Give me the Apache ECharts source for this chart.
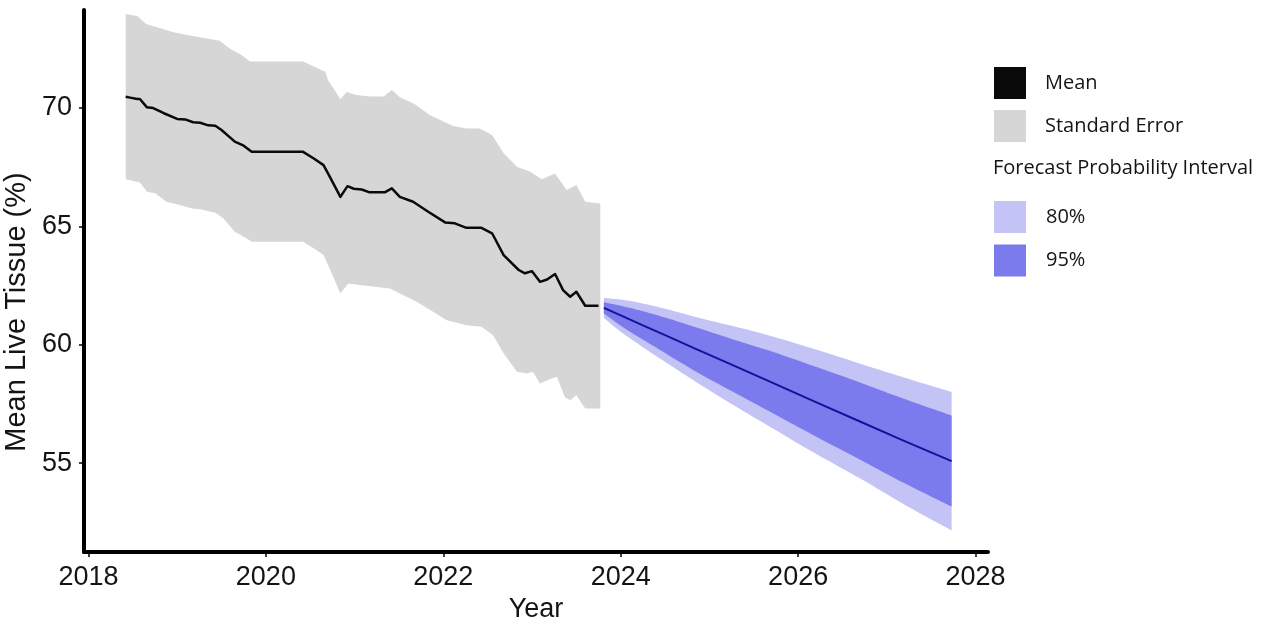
<!DOCTYPE html>
<html>
<head>
<meta charset="utf-8">
<script src="https://cdn.jsdelivr.net/npm/echarts@6/dist/echarts.min.js"></script>
<style>
html,body{margin:0;padding:0;background:#fff;}
#chart{width:1270px;height:621px;}
</style>
</head>
<body>
<div id="chart"></div>
<script>
// ---- Data ----
const xTicks = [2018, 2020, 2022, 2024, 2026, 2028];
const yTicks = [55, 60, 65, 70];

const meanYears = [2018.42,2018.47,2018.55,2018.58,2018.66,2018.73,2018.85,2019.00,2019.09,2019.18,2019.26,2019.35,2019.43,2019.50,2019.65,2019.75,2019.84,2020.42,2020.54,2020.65,2020.72,2020.84,2020.92,2020.99,2021.08,2021.17,2021.34,2021.42,2021.51,2021.66,2021.83,2022.02,2022.13,2022.26,2022.43,2022.55,2022.68,2022.85,2022.92,2023.00,2023.09,2023.17,2023.26,2023.35,2023.43,2023.50,2023.60,2023.75];
const meanVals  = [70.48,70.44,70.38,70.38,70.03,70.00,69.78,69.54,69.52,69.40,69.38,69.27,69.25,69.07,68.58,68.41,68.15,68.15,67.87,67.59,67.10,66.25,66.70,66.59,66.56,66.44,66.44,66.61,66.25,66.04,65.62,65.17,65.13,64.94,64.94,64.71,63.79,63.16,63.02,63.11,62.66,62.76,62.99,62.31,62.03,62.24,61.65,61.65];

const seUpperYears = [2018.42,2018.55,2018.65,2018.81,2018.96,2019.11,2019.26,2019.48,2019.60,2019.71,2019.82,2020.42,2020.57,2020.67,2020.70,2020.84,2020.91,2021.02,2021.17,2021.33,2021.42,2021.51,2021.68,2021.85,2022.11,2022.26,2022.41,2022.55,2022.68,2022.83,2022.98,2023.11,2023.26,2023.39,2023.50,2023.60,2023.77];
const seUpperVals  = [73.97,73.89,73.55,73.37,73.20,73.08,72.99,72.84,72.49,72.28,71.96,71.96,71.70,71.53,71.18,70.37,70.68,70.55,70.49,70.49,70.76,70.46,70.16,69.70,69.24,69.14,69.14,68.86,68.09,67.52,67.31,66.99,67.24,66.54,66.75,66.04,65.97];

const seLowerYears = [2018.42,2018.58,2018.66,2018.75,2018.88,2019.03,2019.17,2019.26,2019.43,2019.52,2019.65,2019.78,2019.84,2020.42,2020.57,2020.65,2020.76,2020.84,2020.93,2021.08,2021.40,2021.51,2021.70,2021.89,2022.04,2022.26,2022.43,2022.56,2022.68,2022.83,2022.94,2023.01,2023.09,2023.18,2023.28,2023.37,2023.43,2023.50,2023.60,2023.77];
const seLowerVals  = [66.99,66.86,66.46,66.40,66.04,65.90,65.76,65.73,65.58,65.34,64.77,64.50,64.35,64.35,64.00,63.79,62.87,62.17,62.59,62.52,62.38,62.17,61.82,61.39,61.04,60.83,60.76,60.41,59.64,58.86,58.79,58.86,58.37,58.51,58.65,57.80,57.66,57.87,57.31,57.31];

const fcYears   = [2023.81,2024.00,2024.25,2024.50,2024.82,2025.25,2025.72,2026.20,2026.71,2027.20,2027.73];
const fcMean    = [61.56,61.24,60.82,60.41,59.87,59.16,58.38,57.58,56.74,55.93,55.09];
const fc80Upper = [61.98,61.91,61.74,61.52,61.20,60.80,60.34,59.80,59.19,58.61,58.01];
const fc80Lower = [61.14,60.55,59.90,59.28,58.50,57.50,56.46,55.40,54.33,53.25,52.17];
const fc95Upper = [61.80,61.65,61.42,61.15,60.77,60.25,59.70,59.07,58.39,57.71,57.01];
const fc95Lower = [61.32,60.81,60.22,59.65,58.93,58.05,57.10,56.13,55.13,54.15,53.17];

// ---- Styling ----
const GRAY = '#d6d6d6';
const LIGHT = '#c3c3f6';
const DARK = '#7b7bee';
const FC_LINE = '#12129c';
const AXIS_FONT = '"Liberation Sans", Arial, sans-serif';
const LEG_FONT = '"Open Sans", "Noto Sans", sans-serif';
const TEXT_COLOR = '#141414';

function zip(xs, ys) { return xs.map((x, i) => [x, ys[i]]); }
// [value, year] rows so that the value (y) dimension is the one stacked
function rows(ys) { return fcYears.map((x, i) => [ys[i], x]); }

function polygonBand(name, xsU, ysU, xsL, ysL, color, z) {
  const upper = zip(xsU, ysU);
  const lower = zip(xsL, ysL);
  return {
    name: name,
    type: 'custom',
    z: z,
    silent: true,
    itemStyle: { color: color },
    encode: { x: 0, y: 1 },
    data: [upper[0]],
    renderItem: function (params, api) {
      const pts = upper.map(p => api.coord(p))
        .concat(lower.slice().reverse().map(p => api.coord(p)));
      return {
        type: 'polygon',
        shape: { points: pts },
        style: { fill: color, stroke: null }
      };
    }
  };
}

// A forecast band: an invisible lower edge with the band width stacked on it.
function forecastBand(name, lower, upper, color, z) {
  const width = upper.map((u, i) => +(u - lower[i]).toFixed(2));
  return [
    {
      name: name + ' base', type: 'line', stack: name, z: z, silent: true,
      smooth: 0.4, showSymbol: false, symbol: 'none',
      encode: { x: 1, y: 0 },
      data: rows(lower),
      lineStyle: { width: 0, opacity: 0 }
    },
    {
      name: name, type: 'line', stack: name, z: z, silent: true,
      smooth: 0.4, showSymbol: false, symbol: 'none',
      encode: { x: 1, y: 0 },
      data: rows(width),
      itemStyle: { color: color },
      lineStyle: { width: 0, opacity: 0 },
      areaStyle: { color: color, opacity: 1 }
    }
  ];
}

const chart = echarts.init(document.getElementById('chart'), null, { renderer: 'canvas' });

const option = {
  backgroundColor: '#ffffff',
  animation: false,
  grid: { left: 84, right: 282, top: 10, bottom: 69, containLabel: false, outerBoundsMode: 'none' },
  title: {
    text: 'Forecast Probability Interval',
    left: 993, top: 156, padding: 0,
    textStyle: { fontFamily: LEG_FONT, fontSize: 20, lineHeight: 24, fontWeight: 'normal', color: TEXT_COLOR }
  },
  legend: [
    {
      data: [
        { name: 'Mean', itemStyle: { color: '#0a0a0a' } },
        { name: 'Standard Error', itemStyle: { color: GRAY } }
      ],
      orient: 'vertical', left: 994, top: 67, padding: 0,
      icon: 'rect', itemWidth: 32, itemHeight: 32, itemGap: 11,
      selectedMode: false,
      textStyle: { fontFamily: LEG_FONT, fontSize: 20, color: TEXT_COLOR, padding: [3, 0, 0, 14] }
    },
    {
      data: [
        { name: '80%', itemStyle: { color: LIGHT } },
        { name: '95%', itemStyle: { color: DARK } }
      ],
      orient: 'vertical', left: 994, top: 201, padding: 0,
      icon: 'rect', itemWidth: 32, itemHeight: 32, itemGap: 11.5,
      selectedMode: false,
      textStyle: { fontFamily: LEG_FONT, fontSize: 20, color: TEXT_COLOR, padding: [0, 0, 0, 15] }
    }
  ],
  xAxis: {
    type: 'value',
    z: 10,
    min: 2017.95, max: 2028.14,
    name: 'Year', nameLocation: 'middle', nameGap: 41,
    nameTextStyle: { fontFamily: AXIS_FONT, fontSize: 27, color: TEXT_COLOR },
    axisLine: { show: true, onZero: false, lineStyle: { color: '#000', width: 4 } },
    axisTick: { show: true, length: 5, customValues: xTicks, lineStyle: { color: '#000', width: 1.5 } },
    axisLabel: { customValues: xTicks, margin: 12, fontFamily: AXIS_FONT, fontSize: 27, color: TEXT_COLOR,
      formatter: v => String(Math.round(v)) },
    splitLine: { show: false }
  },
  yAxis: {
    type: 'value',
    z: 10,
    min: 51.25, max: 74.14,
    name: 'Mean Live Tissue (%)', nameLocation: 'middle', nameGap: 44, nameRotate: 90,
    nameTextStyle: { fontFamily: AXIS_FONT, fontSize: 29, color: TEXT_COLOR, padding: [0, 62, 0, 0] },
    axisLine: { show: true, onZero: false, lineStyle: { color: '#000', width: 4 } },
    axisTick: { show: true, length: 5, customValues: yTicks, lineStyle: { color: '#000', width: 1.5 } },
    axisLabel: { customValues: yTicks, margin: 12, fontFamily: AXIS_FONT, fontSize: 27, color: TEXT_COLOR,
      formatter: v => String(Math.round(v)) },
    splitLine: { show: false }
  },
  series: [
    polygonBand('Standard Error', seUpperYears, seUpperVals, seLowerYears, seLowerVals, GRAY, 1),
    {
      name: 'Mean', type: 'line', z: 3, silent: true,
      data: zip(meanYears, meanVals),
      showSymbol: false, symbol: 'none',
      itemStyle: { color: '#0a0a0a' },
      lineStyle: { color: '#0a0a0a', width: 2.5, join: 'round' }
    },
    ...forecastBand('80%', fc80Lower, fc80Upper, LIGHT, 4),
    ...forecastBand('95%', fc95Lower, fc95Upper, DARK, 5),
    {
      name: 'Forecast Mean', type: 'line', z: 8, silent: true,
      data: zip(fcYears, fcMean),
      showSymbol: false, symbol: 'none',
      itemStyle: { color: FC_LINE },
      lineStyle: { color: FC_LINE, width: 2 }
    }
  ]
};

chart.setOption(option);
</script>
</body>
</html>
